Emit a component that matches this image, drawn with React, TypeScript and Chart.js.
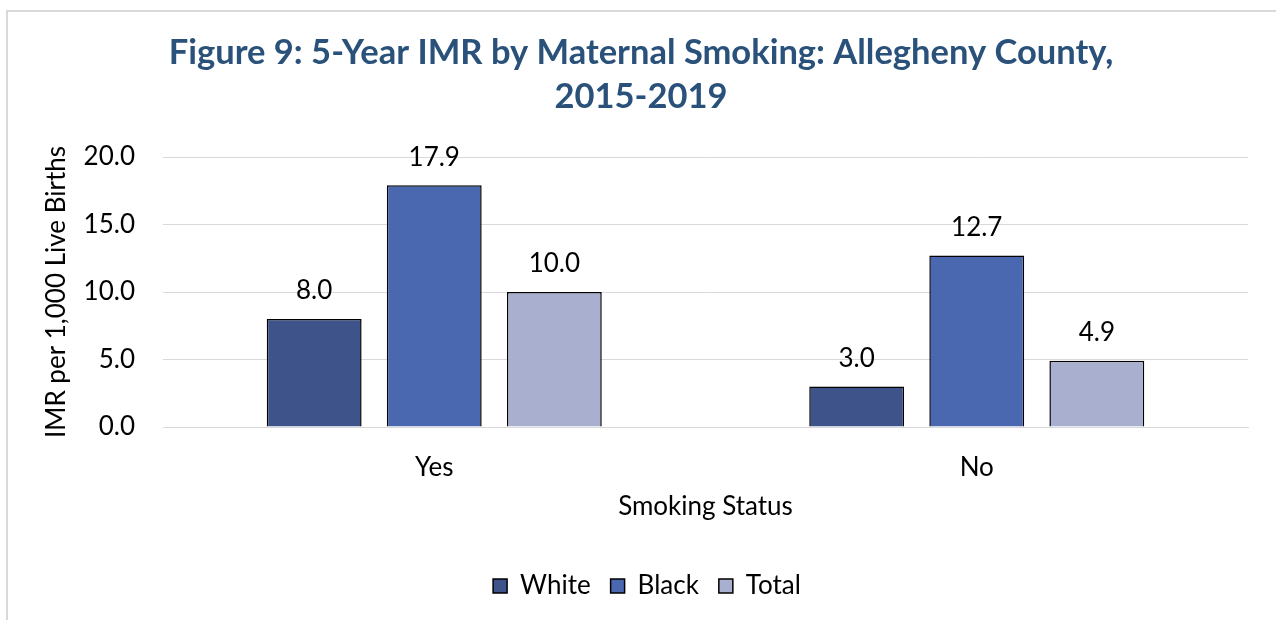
import React, { useEffect, useRef } from 'react';
import { Chart, registerables } from 'chart.js';

Chart.register(...registerables);

const categories = ['Yes', 'No'];
const seriesNames = ['White', 'Black', 'Total'];
const whiteValues = [8.0, 3.0];
const blackValues = [17.9, 12.7];
const totalValues = [10.0, 4.9];
const seriesColors = ['#3D5389', '#4A68AF', '#A9B0CF'];
const titleLines = ['Figure 9: 5-Year IMR by Maternal Smoking: Allegheny County,', '2015-2019'];
const yAxisTitle = 'IMR per 1,000 Live Births';
const xAxisTitle = 'Smoking Status';
const yMin = 0;
const yMax = 20;
const yStep = 5;

const FONT = "Lato, 'Liberation Sans', sans-serif";
const FS = 26;

const borderPlugin = {
  id: 'frameBorder',
  beforeDraw(chart: any) {
    const ctx = chart.ctx;
    ctx.save();
    ctx.fillStyle = '#ffffff';
    ctx.fillRect(0, 0, chart.width, chart.height);
    ctx.strokeStyle = '#d9d9d9';
    ctx.lineWidth = 2;
    ctx.beginPath();
    ctx.moveTo(7, chart.height);
    ctx.lineTo(7, 11);
    ctx.lineTo(chart.width, 11);
    ctx.stroke();
    ctx.restore();
  },
};

const boxShiftPlugin = {
  id: 'boxShift',
  afterLayout(chart: any) {
    const lg = chart.legend;
    if (lg) {
      lg.left += 19;
      lg.right += 19;
    }
    const tb = chart.titleBlock;
    if (tb) {
      tb.left += 13;
      tb.right += 13;
    }
  },
};

const valueLabelPlugin = {
  id: 'valueLabels',
  afterDatasetsDraw(chart: any) {
    const ctx = chart.ctx;
    ctx.save();
    ctx.font = `${FS}px ${FONT}`;
    ctx.fillStyle = '#000000';
    ctx.textAlign = 'center';
    ctx.textBaseline = 'middle';
    chart.data.datasets.forEach((ds: any, i: number) => {
      const meta = chart.getDatasetMeta(i);
      meta.data.forEach((el: any, j: number) => {
        const v = ds.data[j] as number;
        ctx.fillText(v.toFixed(1), el.x, el.y - 28);
      });
    });
    ctx.restore();
  },
};

export default function App() {
  const ref = useRef<HTMLCanvasElement | null>(null);

  useEffect(() => {
    if (!ref.current) return;
    const valueSets = [whiteValues, blackValues, totalValues];
    const chart = new Chart(ref.current, {
      type: 'bar',
      data: {
        labels: categories,
        datasets: seriesNames.map((name, i) => ({
          label: name,
          data: valueSets[i],
          backgroundColor: seriesColors[i],
          borderColor: '#000000',
          borderWidth: 1.5,
          categoryPercentage: 0.664,
          barPercentage: 0.79,
        })),
      },
      options: {
        responsive: false,
        animation: false,
        layout: { padding: { left: 8, right: 28, top: 0, bottom: 11 } },
        plugins: {
          title: {
            display: true,
            text: titleLines,
            color: '#29517A',
            font: { family: FONT, size: 34.5, weight: 'bold', lineHeight: 44 / 34.5 },
            padding: { top: 31, bottom: 38 },
          },
          legend: {
            position: 'bottom',
            labels: {
              color: '#000000',
              font: { family: FONT, size: FS },
              boxWidth: 14,
              boxHeight: 14,
              padding: 20,
            },
          },
          tooltip: { enabled: false },
        },
        scales: {
          x: {
            grid: { display: false, drawTicks: false },
            border: { display: true, color: '#d9d9d9', width: 1 },
            ticks: { color: '#000000', font: { family: FONT, size: FS }, padding: 25 },
            title: {
              display: true,
              text: xAxisTitle,
              color: '#000000',
              font: { family: FONT, size: FS },
              padding: { top: 10, bottom: 31 },
            },
            afterFit: (scale: any) => {
              scale.height = 126;
            },
          },
          y: {
            min: yMin,
            max: yMax,
            grid: { color: '#d9d9d9', lineWidth: 1, drawTicks: false },
            border: { display: false },
            ticks: {
              stepSize: yStep,
              color: '#000000',
              font: { family: FONT, size: FS },
              padding: 28,
              callback: (v: any) => Number(v).toFixed(1),
            },
            title: {
              display: true,
              text: yAxisTitle,
              color: '#000000',
              font: { family: FONT, size: FS },
              padding: { top: 33, bottom: 5 },
            },
            afterFit: (scale: any) => {
              scale.width = 155;
            },
          },
        },
      },
      plugins: [borderPlugin, boxShiftPlugin, valueLabelPlugin],
    });
    return () => chart.destroy();
  }, []);

  return (
    <div style={{ position: 'fixed', left: 0, top: 0, width: 1276, height: 620 }}>
      <canvas ref={ref} width={1276} height={620} style={{ display: 'block', width: 1276, height: 620 }} />
    </div>
  );
}
